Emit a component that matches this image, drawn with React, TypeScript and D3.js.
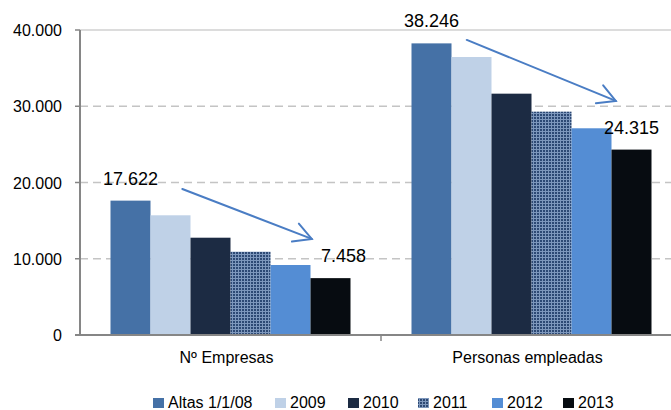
import React from "react";
import * as d3 from "d3";

const categories = ["Nº Empresas", "Personas empleadas"];
const seriesNames = ["Altas 1/1/08", "2009", "2010", "2011", "2012", "2013"];
const empresas = [17622, 15700, 12760, 10920, 9180, 7458];
const personas = [38246, 36460, 31650, 29290, 27110, 24315];
const seriesColors = ["#4571A6", "#BFD1E7", "#1C2B43", "url(#hatch)", "#548DD4", "#070C11"];
const yTicks = [0, 10000, 20000, 30000, 40000];
// value labels: [category index, series index, dx]
const valueLabels: [number, number, number][] = [
  [0, 0, 0],
  [0, 5, 13],
  [1, 0, 0],
  [1, 5, 0],
];
// arrows: category index, start (fraction of band, value), end (fraction of band, value)
const arrows = [
  { cat: 0, x0: 0.34, v0: 19150, x1: 0.77, v1: 12600 },
  { cat: 1, x0: 0.285, v0: 38700, x1: 0.78, v1: 30700 },
];

const W = 671;
const H = 410;
const fmt = (v: number) => d3.format(",")(v).replace(/,/g, ".");

export default function App() {
  const data = [empresas, personas];
  const x0 = d3.scaleBand<string>().domain(categories).range([80, 682]).padding(0);
  const x1 = d3
    .scaleBand<string>()
    .domain(seriesNames)
    .range([0, x0.bandwidth()])
    .paddingInner(0)
    .paddingOuter(0.7625);
  const y = d3.scaleLinear().domain([0, 40000]).range([335, 30]);
  const font = "'Liberation Sans', Arial, sans-serif";

  return (
    <svg
      width={W}
      height={H}
      style={{ position: "absolute", left: 0, top: 0, background: "#fff" }}
      fontFamily={font}
    >
      <defs>
        <pattern id="hatch" width="3" height="3" patternUnits="userSpaceOnUse">
          <rect width="3" height="3" fill="#7D97BC" />
          <rect width="2" height="2" fill="#2D4974" />
        </pattern>
      </defs>
      <rect width={W} height={H} fill="#fff" />
      {/* gridlines */}
      {yTicks.filter((t) => t > 0).map((t) => (
        <line
          key={t}
          x1={80}
          x2={682}
          y1={y(t)}
          y2={y(t)}
          stroke={t === 40000 ? "#D0D0D0" : "#C4C4C4"}
          strokeWidth={1.5}
          strokeDasharray={t === 40000 ? undefined : "8,5"}
        />
      ))}
      {/* bars */}
      {categories.map((c, ci) => (
        <g key={c} transform={`translate(${x0(c)},0)`}>
          {seriesNames.map((s, si) => (
            <rect
              key={s}
              x={x1(s)}
              y={y(data[ci][si])}
              width={x1.bandwidth()}
              height={y(0) - y(data[ci][si])}
              fill={seriesColors[si]}
            />
          ))}
        </g>
      ))}
      {/* axes */}
      <line x1={80} x2={80} y1={30} y2={336} stroke="#868686" strokeWidth={2} />
      {yTicks.map((t) => (
        <g key={t}>
          <line x1={75} x2={80} y1={y(t)} y2={y(t)} stroke="#868686" strokeWidth={1.5} />
          <text x={62} y={y(t) + 6} textAnchor="end" fontSize={16} fill="#000">
            {fmt(t)}
          </text>
        </g>
      ))}
      <line x1={75} x2={682} y1={335} y2={335} stroke="#868686" strokeWidth={2} />
      {categories.slice(1).map((c) => (
        <line key={c} x1={x0(c)} x2={x0(c)} y1={335} y2={341} stroke="#868686" strokeWidth={1.5} />
      ))}
      {categories.map((c) => (
        <text key={c} x={(x0(c) as number) + x0.bandwidth() / 2 - 4} y={363} textAnchor="middle" fontSize={16}>
          {c}
        </text>
      ))}
      {/* value labels */}
      {valueLabels.map(([ci, si, dx]) => (
        <text
          key={`${ci}-${si}`}
          x={(x0(categories[ci]) as number) + (x1(seriesNames[si]) as number) + x1.bandwidth() / 2 + dx}
          y={y(data[ci][si]) - 16}
          textAnchor="middle"
          fontSize={18}
        >
          {fmt(data[ci][si])}
        </text>
      ))}
      {/* arrows */}
      {arrows.map((a, i) => {
        const bx = x0(categories[a.cat]) as number;
        const sx = bx + a.x0 * x0.bandwidth();
        const sy = y(a.v0);
        const ex = bx + a.x1 * x0.bandwidth();
        const ey = y(a.v1);
        const ang = Math.atan2(ey - sy, ex - sx);
        const len = 20;
        const spread = 0.5;
        const h1 = [ex - len * Math.cos(ang - spread), ey - len * Math.sin(ang - spread)];
        const h2 = [ex - len * Math.cos(ang + spread), ey - len * Math.sin(ang + spread)];
        return (
          <g key={i} stroke="#4A7DC4" strokeWidth={2} fill="none" strokeLinecap="round">
            <line x1={sx} y1={sy} x2={ex} y2={ey} />
            <polyline points={`${h1[0]},${h1[1]} ${ex},${ey} ${h2[0]},${h2[1]}`} />
          </g>
        );
      })}
      {/* legend */}
      {seriesNames.map((s, i) => {
        const lx = [153, 275, 348, 418, 492, 563][i];
        return (
          <g key={s}>
            <rect x={lx} y={398} width={11} height={10} fill={seriesColors[i]} />
            <text x={lx + 15} y={408} fontSize={16}>
              {s}
            </text>
          </g>
        );
      })}
    </svg>
  );
}
